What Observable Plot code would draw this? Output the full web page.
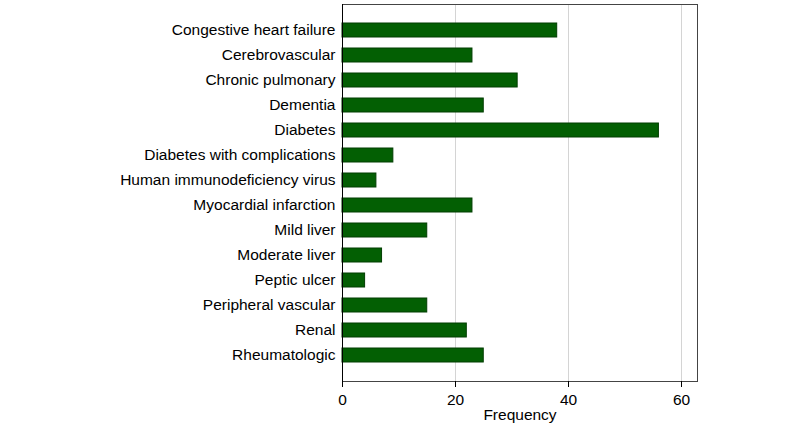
<!DOCTYPE html>
<html>
<head>
<meta charset="utf-8">
<script src="https://cdn.jsdelivr.net/npm/d3@7"></script>
<script src="https://cdn.jsdelivr.net/npm/@observablehq/plot@0.6"></script>
<style>
  html, body { margin: 0; padding: 0; background: #fff; }
  #chart { width: 800px; height: 427px; }
</style>
</head>
<body>
<div id="chart"></div>
<script>
const categories = [
  "Congestive heart failure",
  "Cerebrovascular",
  "Chronic pulmonary",
  "Dementia",
  "Diabetes",
  "Diabetes with complications",
  "Human immunodeficiency virus",
  "Myocardial infarction",
  "Mild liver",
  "Moderate liver",
  "Peptic ulcer",
  "Peripheral vascular",
  "Renal",
  "Rheumatologic"
];
const frequencies = [38, 23, 31, 25, 56, 9, 6, 23, 15, 7, 4, 15, 22, 25];
const xTicks = [0, 20, 40, 60];
const gridTicks = [20, 40, 60];

const data = categories.map((c, i) => ({category: c, value: frequencies[i]}));

const chart = Plot.plot({
  width: 800,
  height: 427,
  marginLeft: 342,
  marginRight: 103,
  marginTop: 4,
  marginBottom: 46,
  style: {fontFamily: "'Liberation Sans', Arial, sans-serif", fontSize: "15.5px", color: "#000", background: "#fff"},
  x: {domain: [0, 62.83], ticks: xTicks, label: null},
  y: {domain: categories, paddingInner: 0.426, paddingOuter: 0.743, label: null},
  marks: [
    Plot.ruleX(gridTicks, {stroke: "#d4d4d4", strokeWidth: 1}),
    Plot.barX(data, {x: "value", y: "category", fill: "#035f03", stroke: "#023e02", strokeWidth: 1}),
    Plot.frame({stroke: "#444", strokeWidth: 1}),
    Plot.axisX({ticks: xTicks, tickSize: 6, tickPadding: 6, fontSize: 15.5, label: null, stroke: "#000"}),
    Plot.axisY({tickSize: 0, tickPadding: 7, fontSize: 15.5, label: null}),
    Plot.ruleX([0], {stroke: "#000", strokeWidth: 1}),
    Plot.text(["Frequency"], {frameAnchor: "bottom", dy: 38, fontSize: 15.5, fill: "#000"})
  ]
});
document.getElementById("chart").appendChild(chart);
</script>
</body>
</html>
